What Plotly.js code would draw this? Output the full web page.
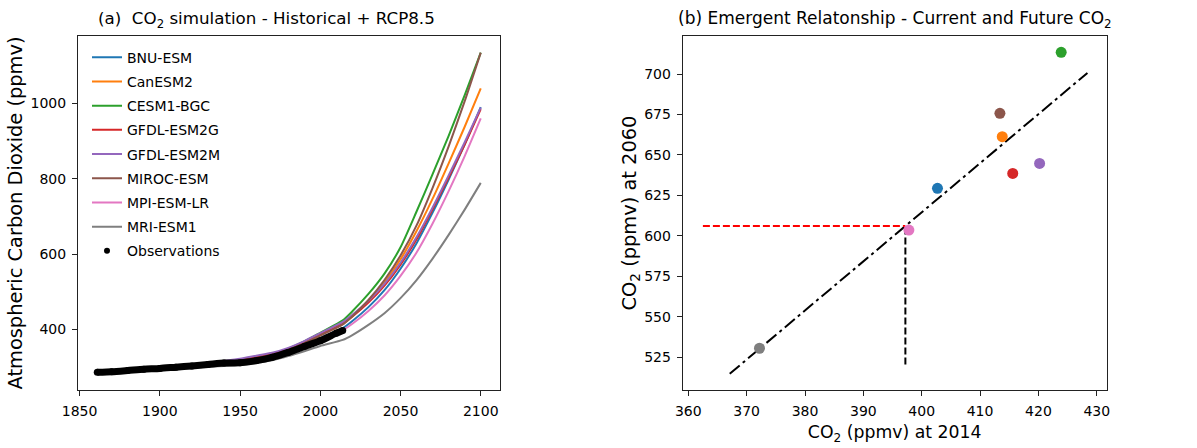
<!DOCTYPE html>
<html>
<head>
<meta charset="utf-8">
<script src="https://cdn.plot.ly/plotly-3.0.1.min.js"></script>
<style>html,body{margin:0;padding:0;background:#fff;}#chart{width:1197px;height:448px;}</style>
</head>
<body>
<div id="chart"></div>
<script>
// ---------------- DATA ----------------
const models = ['BNU-ESM','CanESM2','CESM1-BGC','GFDL-ESM2G','GFDL-ESM2M','MIROC-ESM','MPI-ESM-LR','MRI-ESM1'];
const colors = ['#1f77b4','#ff7f0e','#2ca02c','#d62728','#9467bd','#8c564b','#e377c2','#7f7f7f'];

const years = [1861,1880,1900,1920,1940,1950,1960,1970,1980,1990,2000,2014,2020,2030,2040,2050,2060,2070,2080,2090,2100];
const bnu   = [286,290,295,301,308,312,318,327,341,358,378,403,422,459,504,561,629,710,798,891,990];
const can   = [287,290,296,302,309,314,321,330,344,362,384,414,434,475,525,586,661,747,841,938,1040];
const cesm  = [287,291,297,304,312,317,324,334,349,368,391,424,448,494,548,618,713,812,914,1022,1135];
const gfdlG = [286,290,296,303,313,320,328,336,349,366,387,416,434,471,516,572,639,719,803,891,985];
const gfdlM = [286,291,297,305,316,322,330,338,351,369,390,420,439,476,521,577,645,724,809,897,989];
const miroc = [286,290,296,302,310,315,322,331,345,363,384,413,435,478,531,596,676,776,886,1006,1135];
const mpi   = [286,289,294,300,307,311,317,325,338,355,374,398,415,449,490,542,604,681,767,860,960];
const mri   = [286,289,293,298,303,306,311,318,329,342,356,372,385,412,443,483,531,588,651,718,789];
const modelSeries = [bnu, can, cesm, gfdlG, gfdlM, miroc, mpi, mri];

const obsYears  = [1861,1870,1880,1890,1900,1910,1920,1930,1940,1950,1960,1970,1980,1990,2000,2010,2014];
const obsValues = [286.0,287.5,290.7,294.2,296.1,299.7,303.0,306.6,310.5,311.3,316.9,325.7,338.8,354.4,369.6,389.9,397.2];

// panel (b): model CO2 at 2014 and at 2060
const co2At2014 = [402.7,413.8,423.9,415.6,420.2,413.4,397.8,372.2];
const co2At2060 = [629.4,661.3,713.4,638.6,644.8,675.7,603.6,530.6];
const fitRange  = [367.1,428.4];

const leftXTicks  = [1850,1900,1950,2000,2050,2100];
const leftYTicks  = [400,600,800,1000];
const rightXTicks = [360,370,380,390,400,410,420,430];
const rightYTicks = [525,550,575,600,625,650,675,700];

// ---------------- FIT ----------------
const n = co2At2014.length;
const mx = co2At2014.reduce((a,b)=>a+b,0)/n;
const my = co2At2060.reduce((a,b)=>a+b,0)/n;
let sxy=0, sxx=0;
for (let i=0;i<n;i++){ sxy += (co2At2014[i]-mx)*(co2At2060[i]-my); sxx += (co2At2014[i]-mx)**2; }
const slope = sxy/sxx, icpt = my - slope*mx;
const fitY = fitRange.map(x => icpt + slope*x);
const obs2014 = obsValues[obsValues.length-1];
const constrained = icpt + slope*obs2014;
const hLineStart = 362.5;
const vLineBottom = 520.5;

// ---------------- TRACES ----------------
const traces = [];
models.forEach((m,i)=>{
  traces.push({type:'scatter', mode:'lines', x:years, y:modelSeries[i], name:m,
    line:{color:colors[i], width:2, shape:'spline', smoothing:0.6},
    xaxis:'x', yaxis:'y', legendgroup:'g'+i});
});
traces.push({type:'scatter', mode:'lines+markers', x:obsYears, y:obsValues, name:'Observations',
  line:{color:'#000', width:7, shape:'spline', smoothing:0.6}, marker:{color:'#000', size:7},
  xaxis:'x', yaxis:'y', showlegend:false, hoverinfo:'x+y'});
traces.push({type:'scatter', mode:'markers', x:[null], y:[null], name:'Observations',
  marker:{color:'#000', size:6}, xaxis:'x', yaxis:'y', legendgroup:'obs'});

// panel b
traces.push({type:'scatter', mode:'lines', x:fitRange, y:fitY, showlegend:false,
  line:{color:'#000', width:2, dash:'13px,4px,3px,4px'}, xaxis:'x2', yaxis:'y2'});
traces.push({type:'scatter', mode:'lines', x:[hLineStart, obs2014], y:[constrained, constrained], showlegend:false,
  line:{color:'#ff0000', width:2, dash:'7px,3px'}, xaxis:'x2', yaxis:'y2'});
traces.push({type:'scatter', mode:'lines', x:[obs2014, obs2014], y:[vLineBottom, constrained], showlegend:false,
  line:{color:'#000', width:2, dash:'7px,3px'}, xaxis:'x2', yaxis:'y2'});
traces.push({type:'scatter', mode:'markers', x:co2At2014, y:co2At2060, text:models, showlegend:false,
  marker:{color:colors, size:11}, xaxis:'x2', yaxis:'y2', hoverinfo:'text+x+y'});

// ---------------- LAYOUT ----------------
const W = 1197;
const axBase = {ticks:'outside', ticklen:5, tickwidth:1, tickcolor:'#222', showline:true, mirror:true,
  linecolor:'#222', linewidth:1, showgrid:false, zeroline:false, tickfont:{size:14, color:'#000'},
  ticklabelstandoff:3};

const layout = {
  width:1197, height:448,
  margin:{l:0, r:0, t:36, b:58},
  paper_bgcolor:'#fff', plot_bgcolor:'#fff',
  font:{family:'DejaVu Sans, sans-serif', size:14, color:'#000'},
  showlegend:true,
  xaxis:Object.assign({}, axBase, {domain:[78/W, 500/W], range:[1849,2112], tickvals:leftXTicks, anchor:'y'}),
  yaxis:Object.assign({}, axBase, {domain:[0,1], range:[239,1179], tickvals:leftYTicks, anchor:'x',
    title:{text:'Atmospheric Carbon Dioxide (ppmv)', font:{size:19.4}, standoff:2}}),
  xaxis2:Object.assign({}, axBase, {domain:[682.7/W, 1106.7/W], range:[359.04,431.7], tickvals:rightXTicks, anchor:'y2',
    title:{text:'CO<sub>2</sub> (ppmv) at 2014', font:{size:17.3}, standoff:8}}),
  yaxis2:Object.assign({}, axBase, {domain:[0,1], range:[504.8,723.5], tickvals:rightYTicks, anchor:'x2',
    title:{text:'CO<sub>2</sub> (ppmv) at 2060', font:{size:19.4}, standoff:2}}),
  legend:{x:87/W, xanchor:'left', y:0.984, yanchor:'top', bgcolor:'rgba(0,0,0,0)', borderwidth:0,
    font:{size:14}, tracegroupgap:3, itemwidth:30},
  annotations:[
    {text:'(a)&nbsp; CO<sub>2</sub> simulation - Historical + RCP8.5', xref:'paper', yref:'paper',
     x:266/W, y:1+(36-19)/354, xanchor:'center', yanchor:'middle', showarrow:false, font:{size:16.7}},
    {text:'(b) Emergent Relatonship - Current and Future CO<sub>2</sub>', xref:'paper', yref:'paper',
     x:894.5/W, y:1+(36-19)/354, xanchor:'center', yanchor:'middle', showarrow:false, font:{size:17}}
  ]
};

Plotly.newPlot('chart', traces, layout, {displayModeBar:false});
</script>
</body>
</html>
